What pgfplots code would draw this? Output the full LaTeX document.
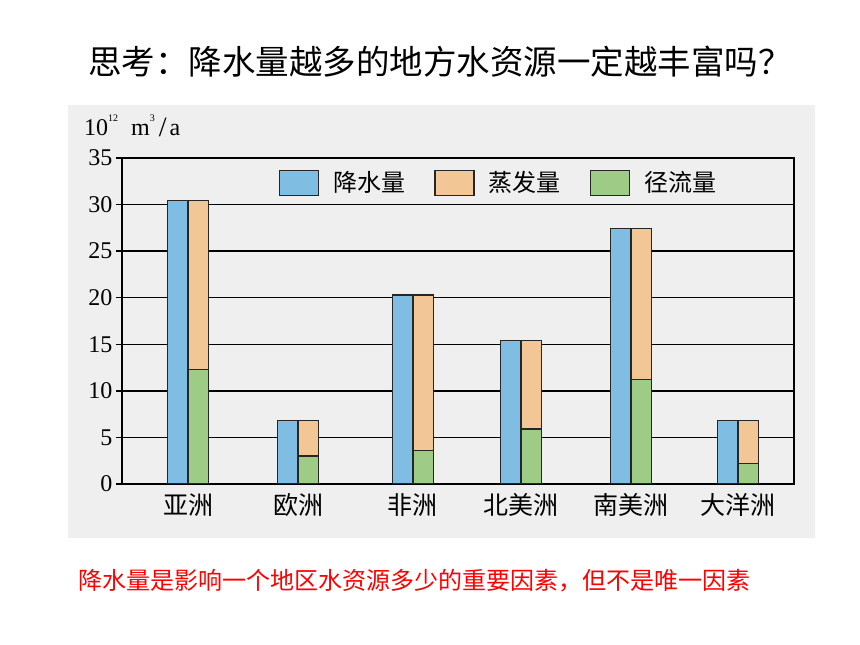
\documentclass[border=0pt]{standalone}
\usepackage{pgfplots}
\pgfplotsset{compat=1.18}
\usepackage{fontspec}
\setmainfont{Liberation Serif}
\newfontfamily\cjk{Noto Sans CJK SC}
\definecolor{bgpanel}{HTML}{EFEFEF}
\definecolor{cblue}{HTML}{80BDE3}
\definecolor{corange}{HTML}{F3C795}
\definecolor{cgreen}{HTML}{9ECB85}
\pgfplotsset{
  mybar/.style={ybar, bar width=20.5pt, draw=black!85, line width=1.3pt,
    legend image code/.code={\draw[##1] (0pt,-13pt) rectangle (39pt,12pt);}},
}
\begin{document}
\begin{tikzpicture}
\fill[white] (0pt,0pt) rectangle (860pt,645pt);
\fill[bgpanel] (68pt,107pt) rectangle (815pt,540pt);
\node[anchor=west,inner sep=0pt,font=\cjk\fontsize{33.5}{36}\selectfont] at (88pt,583pt) {思考：降水量越多的地方水资源一定越丰富吗？};
\node[anchor=west,inner sep=0pt,text=red,font=\cjk\fontsize{24}{28}\selectfont] at (78pt,64pt) {降水量是影响一个地区水资源多少的重要因素，但不是唯一因素};
\node[anchor=west,inner sep=0pt,font=\fontsize{24}{26}\selectfont] at (84pt,519pt) {10\raisebox{0.6em}{\fontsize{10}{10}\selectfont 12}\hspace{13pt}m\raisebox{0.6em}{\fontsize{10}{10}\selectfont 3}\hspace{4pt}\raisebox{-0.05em}{\fontsize{28}{28}\selectfont /}\hspace{3pt}a};
\begin{axis}[
  at={(122pt,161pt)}, anchor=south west,
  scale only axis, width=672pt, height=326pt,
  xmin=-0.6, xmax=5.509, ymin=0, ymax=35,
  ytick={0,5,...,35},
  ymajorgrids, grid style={black, line width=1.5pt},
  xtick=data, xticklabels={亚洲,欧洲,非洲,北美洲,南美洲,大洋洲},
  x tick label style={font=\cjk\fontsize{25}{28}\selectfont},
  y tick label style={font=\fontsize{24}{26}\selectfont},
  /pgf/number format/assume math mode=true,
  tick align=outside, major tick length=6pt, tick pos=left,
  xtick style={draw=none}, ytick style={black, line width=1.5pt},
  axis line style={black, line width=1.8pt},
  legend style={at={(0.2336,0.923)}, anchor=west, draw=none, fill=none,
    inner sep=0pt, nodes={inner sep=0pt},
    font=\cjk\fontsize{24}{28}\selectfont,
    /tikz/every odd column/.append style={column sep=14pt},
    /tikz/every even column/.append style={column sep=29pt}},
  legend columns=3, legend cell align=left,
]
\addplot[mybar, bar shift=-10.25pt, fill=cblue] coordinates {(0,30.4) (1,6.8) (2.045,20.3) (3.027,15.4) (4.027,27.4) (5,6.8)};
\addlegendentry{降水量}
\addplot[mybar, bar shift=10.25pt, fill=corange] coordinates {(0,30.4) (1,6.8) (2.045,20.3) (3.027,15.4) (4.027,27.4) (5,6.8)};
\addlegendentry{蒸发量}
\addplot[mybar, bar shift=10.25pt, fill=cgreen] coordinates {(0,12.3) (1,3.0) (2.045,3.6) (3.027,5.9) (4.027,11.2) (5,2.2)};
\addlegendentry{径流量}
\end{axis}
\end{tikzpicture}
\end{document}
